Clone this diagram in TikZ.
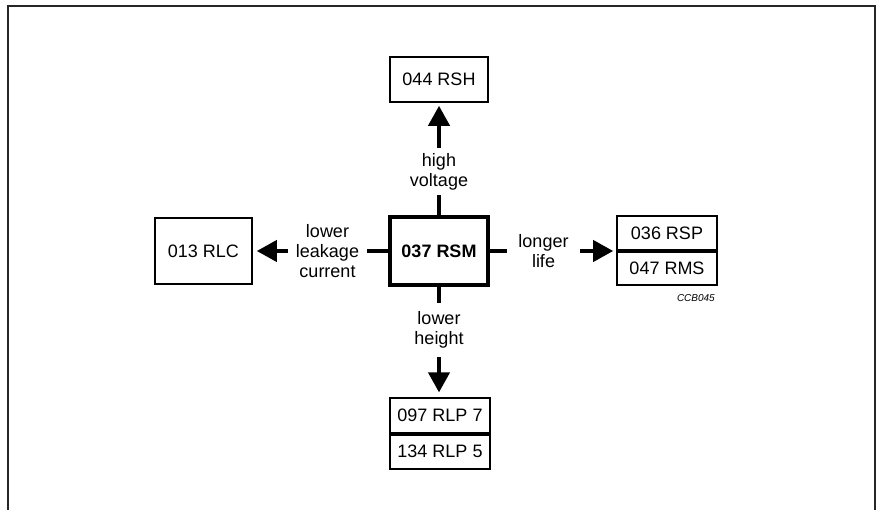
\documentclass[tikz,border=0pt]{standalone}
\usepackage{fontspec}
\setmainfont{Liberation Sans}
\usetikzlibrary{arrows.meta}
\begin{document}
\begin{tikzpicture}[x=1pt,y=-1pt,
  box/.style={draw, line width=1.6pt, font=\fontsize{18}{20}\selectfont, inner sep=0pt},
  mainbox/.style={draw, line width=4pt, font=\fontsize{18}{20}\selectfont\bfseries, minimum width=98pt, minimum height=68pt, inner sep=0pt},
  lbl/.style={fill=white, align=center, font=\fontsize{18}{20}\selectfont, inner sep=0pt},
  conn/.style={line width=4pt, -{Triangle[width=21pt,length=20pt]}},
  frame/.style={draw=black!85, line width=1.8pt},
]
\useasboundingbox (0,0) rectangle (877,510);
\draw[frame] (8,530) rectangle (875,6);

\node[mainbox] (c) at (439,251) {037 RSM};
\node[box, minimum width=98pt, minimum height=45pt] (hv) at (439,79.5) {044 RSH};
\node[box, minimum width=97pt, minimum height=66pt] (lc) at (203.5,251) {013 RLC};
\node[box, minimum width=100pt, minimum height=34pt, anchor=south] (rsp) at (667,251) {036 RSP};
\node[box, minimum width=100pt, minimum height=33pt, anchor=north] (rms) at (667,251) {047 RMS};
\node[box, minimum width=100pt, minimum height=35pt, anchor=south] (rlpa) at (440,434) {097 RLP 7};
\node[box, minimum width=100pt, minimum height=34pt, anchor=north] (rlpb) at (440,434) {134 RLP 5};
\node[font=\fontsize{10}{12}\selectfont\itshape, anchor=north east, inner sep=0pt] (id) at (715,294) {CCB045};

\draw[conn, shorten >=3pt] (c.north) -- (c.north |- hv.south);
\draw[conn, shorten >=4pt] (c.west) -- (lc.east);
\draw[conn, shorten >=3pt] (c.east) -- (rsp.south west);
\draw[conn, shorten >=5pt] (c.south) -- (c.south |- rlpa.north);

\node[lbl, minimum width=60pt, minimum height=47pt] (lhv) at (439,171.5) {high\\voltage};
\node[lbl, minimum width=79pt, minimum height=62pt] (llc) at (327.5,251) {lower\\leakage\\current};
\node[lbl, minimum width=73pt, minimum height=44pt] (lll) at (543.5,251) {longer\\life};
\node[lbl, minimum width=60pt, minimum height=54pt] (llh) at (439,330) {lower\\height};
\end{tikzpicture}
\end{document}
